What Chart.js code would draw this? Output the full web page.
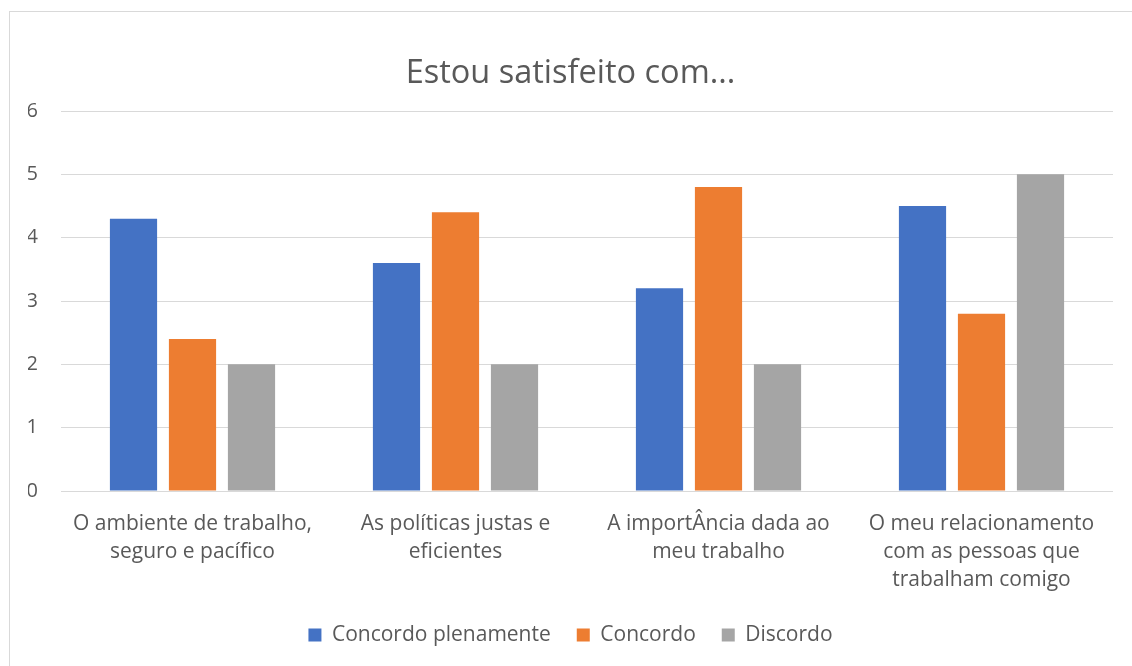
<!DOCTYPE html>
<html lang="pt">
<head>
    <meta charset="UTF-8">
    <title>Estou satisfeito com...</title>
    <script src="https://cdn.jsdelivr.net/npm/chart.js"></script>
    <style>
        body { margin: 0; background: #ffffff; overflow: hidden; }
        #box {
            position: absolute; left: 9px; top: 11px;
            width: 1130px; height: 670px;
            border: 1px solid #d9d9d9; box-sizing: border-box;
        }
        #chartWrap { position: absolute; left: 0; top: 0; width: 1123px; height: 655px; }
    </style>
</head>
<body>

<div id="box">
    <div id="chartWrap"><canvas id="barChart"></canvas></div>
</div>

<script>
    // chart data
    var categories = [
        ["O ambiente de trabalho,", "seguro e pacífico"],
        ["As políticas justas e", "eficientes"],
        ["A importÂncia dada ao", "meu trabalho"],
        ["O meu relacionamento", "com as pessoas que", "trabalham comigo"]
    ];
    var seriesNames = ["Concordo plenamente", "Concordo", "Discordo"];
    var concordoPlenamente = [4.3, 3.6, 3.2, 4.5];
    var concordo = [2.4, 4.4, 4.8, 2.8];
    var discordo = [2, 2, 2, 5];
    var yTicks = [0, 1, 2, 3, 4, 5, 6];

    var colors = ["#4472C4", "#ED7D31", "#A5A5A5"];
    var textColor = "#595959";
    var fontFamily = "'Open Sans', sans-serif";

    var seriesValues = [concordoPlenamente, concordo, discordo];
    var datasets = seriesNames.map(function (name, i) {
        return {
            label: name,
            data: seriesValues[i],
            backgroundColor: colors[i],
            borderWidth: 0,
            categoryPercentage: 0.673,
            barPercentage: 0.8
        };
    });

    var ctx = document.getElementById("barChart");
    new Chart(ctx, {
        type: "bar",
        data: { labels: categories, datasets: datasets },
        options: {
            responsive: true,
            maintainAspectRatio: false,
            animation: false,
            layout: { padding: { left: 18, right: 20, top: 0, bottom: 11.5 } },
            scales: {
                x: {
                    grid: { display: false },
                    border: { display: false },
                    afterFit: function (axis) {
                        // keep the plot area fixed like the original
                        axis.height = 107.5;
                        axis.paddingLeft = 0;
                        axis.paddingRight = 0;
                    },
                    ticks: {
                        color: textColor,
                        padding: 11,
                        maxRotation: 0,
                        autoSkip: false,
                        font: { family: fontFamily, size: 21, lineHeight: 1.333 }
                    }
                },
                y: {
                    min: yTicks[0],
                    max: yTicks[yTicks.length - 1],
                    afterBuildTicks: function (axis) {
                        axis.ticks = yTicks.map(function (v) { return { value: v }; });
                    },
                    afterFit: function (axis) {
                        axis.width = 33;
                        axis.paddingTop = 0;
                        axis.paddingBottom = 0;
                    },
                    grid: { color: "#d9d9d9", lineWidth: 1, drawTicks: false },
                    border: { display: false },
                    ticks: {
                        color: textColor,
                        padding: 23,
                        font: { family: fontFamily, size: 20 }
                    }
                }
            },
            plugins: {
                title: {
                    display: true,
                    text: "Estou satisfeito com...",
                    color: textColor,
                    font: { family: fontFamily, size: 32.5, weight: "normal", lineHeight: 1.2 },
                    padding: { top: 42, bottom: 18 }
                },
                legend: {
                    position: "bottom",
                    labels: {
                        color: textColor,
                        boxWidth: 13,
                        boxHeight: 13,
                        padding: 26,
                        font: { family: fontFamily, size: 21 }
                    }
                },
                tooltip: { enabled: false }
            }
        }
    });
</script>

</body>
</html>
